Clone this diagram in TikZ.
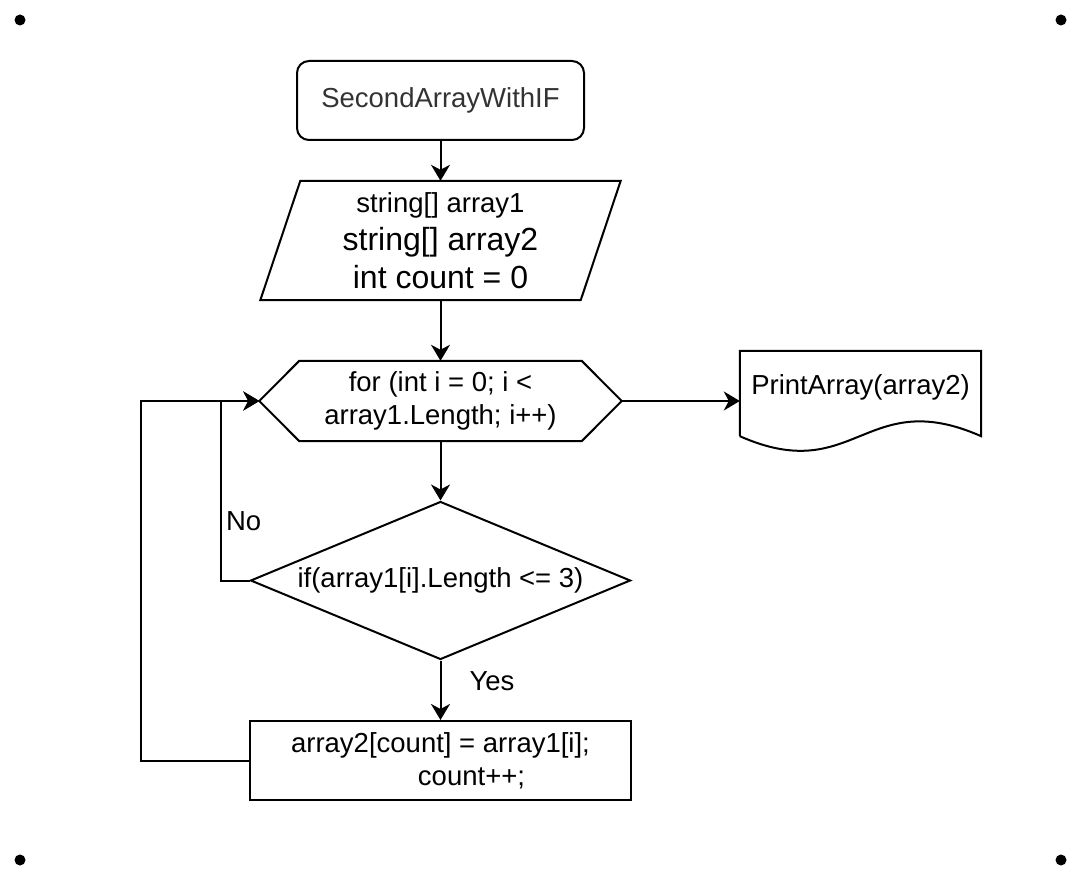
\documentclass[tikz,border=0pt]{standalone}
\usepackage{fontspec}
\setmainfont{Liberation Sans}
\usepackage{tikz}
\usetikzlibrary{arrows.meta,positioning,shapes.geometric,calc}
\usepackage{xcolor}
\definecolor{startText}{RGB}{51,51,51}
\definecolor{flowLine}{RGB}{0,0,0}
\tikzset{
    every node/.append style={align=center},
    startbox/.style={rectangle,draw=flowLine,line width=2pt,rounded corners=12pt,
        minimum width=287pt,minimum height=79pt,text=startText},
    shell/.style={rectangle,draw=none,inner sep=0pt},
    outline/.style={draw=flowLine,line width=2pt,line join=miter},
    decision/.style={diamond,draw=flowLine,line width=2pt,aspect=2.4,inner sep=0pt,
        minimum width=380pt,minimum height=158pt},
    stepbox/.style={rectangle,draw=flowLine,line width=2pt,minimum width=381pt,minimum height=79pt},
    arr/.style={-{Stealth[length=16pt,width=19pt,inset=5pt]},line width=2pt,draw=flowLine},
    lbl/.style={inner sep=0pt,anchor=west}
}

\begin{document}
\begin{tikzpicture}[x=1pt,y=-1pt,font=\fontsize{27.5}{33}\selectfont]
    \useasboundingbox (0,0) rectangle (1082,882);
    % page markers
    \foreach \px/\py in {20/20,1061/20,20/860,1061/860}
        \fill[flowLine] (\px,\py) circle (5.5pt);

    % main column
    \node[startbox] (start) at (440.5,100.5) {SecondArrayWithIF};
    \node[shell,minimum width=360pt,minimum height=119pt,font=\fontsize{32}{38}\selectfont] (vars) at (440.5,240.5)
        {{\fontsize{27.5}{38}\selectfont string[] array1}\\string[] array2\\int count = 0};
    \node[shell,minimum width=362pt,minimum height=80pt] (forloop) at (440.5,401)
        {for (int i = 0; i <\\array1.Length; i++)};
    \node[decision] (cond) at (440.5,580.5) {if(array1[i].Length <= 3)};
    \node[stepbox] (body) at (440.5,760.5) {array2[count] = array1[i];\\\hspace*{62pt}count++;};
    % output
    \node[shell,minimum width=241pt,minimum height=72pt] (print) at (860.5,387) {PrintArray(array2)};

    % shapes drawn round the shells
    \draw[outline] ([xshift=40pt]vars.north west) -- (vars.north east)
        -- ([xshift=-40pt]vars.south east) -- (vars.south west) -- cycle;
    \draw[outline] (forloop.west) -- ([xshift=40pt]forloop.north west) -- ([xshift=-40pt]forloop.north east)
        -- (forloop.east) -- ([xshift=-40pt]forloop.south east) -- ([xshift=40pt]forloop.south west) -- cycle;
    \draw[outline] ([yshift=-13pt]print.south west) -- (print.north west) -- (print.north east)
        -- ([yshift=-13pt]print.south east) .. controls (865,385) and (855,487) .. ([yshift=-13pt]print.south west);

    % bends
    \coordinate (noturn)   at (221,580.5);
    \coordinate (loopturn) at (141,760.5);

    \draw[arr] (start) -- (vars);
    \draw[arr] (vars) -- (forloop);
    \draw[arr] (forloop.east) -- (forloop.east -| print.west);
    \draw[arr] (forloop) -- (cond);
    \draw[arr] (cond) -- node[lbl,pos=0.35,xshift=28pt]{Yes} (body);
    \draw[arr] (cond.west) -- (noturn) |- node[lbl,pos=0.165,xshift=4pt]{No} (forloop.west);
    \draw[arr] (body.west) -- (loopturn) |- (forloop.west);
\end{tikzpicture}
\end{document}
